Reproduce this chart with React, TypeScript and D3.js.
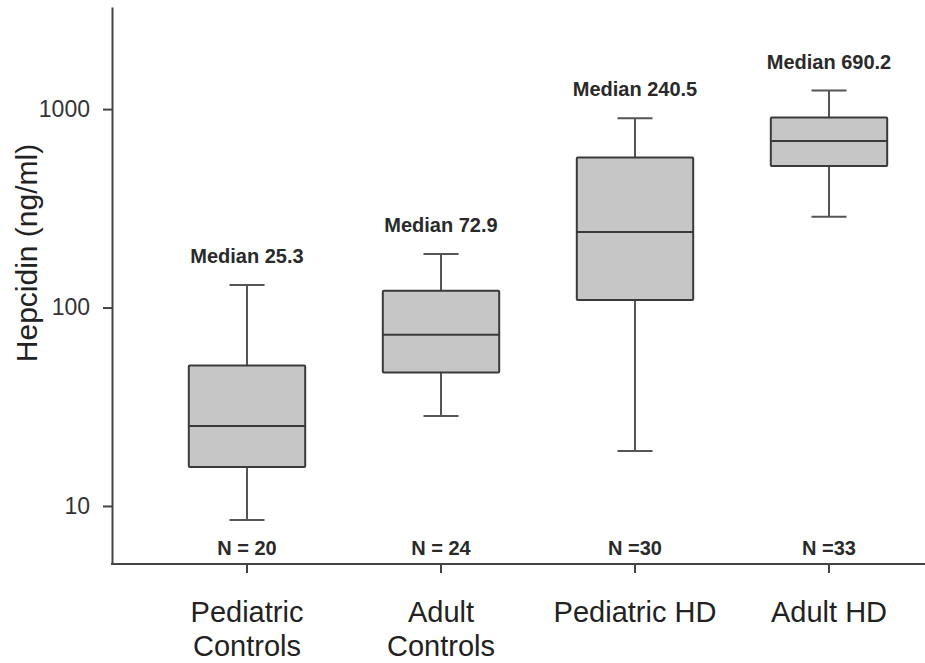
import React, { useEffect, useRef } from 'react'
import * as d3 from 'd3'

const groups = ['Pediatric Controls', 'Adult Controls', 'Pediatric HD', 'Adult HD']
const groupLines = [['Pediatric', 'Controls'], ['Adult', 'Controls'], ['Pediatric HD'], ['Adult HD']]
const whiskerLow = [8.5, 28.4, 18.9, 287]
const q1 = [15.7, 47, 109, 517]
const medians = [25.3, 72.9, 240.5, 690.2]
const q3 = [51, 121.6, 570, 906]
const whiskerHigh = [130, 186, 900, 1240]
const counts = ['N = 20', 'N = 24', 'N =30', 'N =33']
const yTicks = [10, 100, 1000]

const width = 925
const height = 663
const font = '"Liberation Sans", Arial, sans-serif'

const App = () => {
	const ref = useRef<SVGSVGElement>(null)

	useEffect(() => {
		const svg = d3.select(ref.current)
		svg.selectAll('*').remove()

		const axisLeftX = 112
		const axisBottomY = 564

		const y = d3.scaleLog().domain([5.1, 3270]).range([axisBottomY, 7])
		const x = d3.scaleBand().domain(groups).range([150, 926]).paddingInner(0.4).paddingOuter(0.2)
		const bw = x.bandwidth()
		const cap = 35

		const rows = groups.map((g, i) => ({
			g, i,
			lo: whiskerLow[i], q1: q1[i], med: medians[i], q3: q3[i], hi: whiskerHigh[i],
		}))

		// y axis
		const yAxis = svg.append('g')
			.attr('transform', `translate(${axisLeftX},0)`)
			.call(d3.axisLeft(y).tickValues(yTicks).tickFormat(d => String(d)).tickSize(9).tickSizeOuter(0).tickPadding(13))
		yAxis.select('.domain').attr('stroke', '#444').attr('stroke-width', 2)
		yAxis.selectAll('.tick line').attr('stroke', '#444').attr('stroke-width', 2)
		yAxis.selectAll('.tick text')
			.attr('font-family', font).attr('font-size', 23).attr('fill', '#333')

		// x axis line + ticks
		svg.append('line')
			.attr('x1', axisLeftX - 1).attr('x2', width)
			.attr('y1', axisBottomY).attr('y2', axisBottomY)
			.attr('stroke', '#444').attr('stroke-width', 2)

		const cx = (g: string) => (x(g) as number) + bw / 2

		svg.append('g').selectAll('line').data(groups).enter().append('line')
			.attr('x1', cx).attr('x2', cx)
			.attr('y1', axisBottomY).attr('y2', axisBottomY + 9)
			.attr('stroke', '#444').attr('stroke-width', 2)

		// category labels
		const labels = svg.append('g').selectAll('text').data(groups).enter().append('text')
			.attr('x', cx)
			.attr('text-anchor', 'middle')
			.attr('font-family', font).attr('font-size', 29).attr('fill', '#222')
		labels.each(function (g, i) {
			groupLines[i].forEach((line, k) => {
				d3.select(this).append('tspan')
					.attr('x', cx(g))
					.attr('y', 622 + k * 34)
					.text(line)
			})
		})

		// y title
		svg.append('text')
			.attr('transform', 'translate(37,253) rotate(-90)')
			.attr('text-anchor', 'middle')
			.attr('font-family', font).attr('font-size', 30).attr('fill', '#222')
			.text('Hepcidin (ng/ml)')

		// boxes
		const box = svg.append('g').selectAll('g').data(rows).enter().append('g')

		box.append('line')
			.attr('x1', d => cx(d.g)).attr('x2', d => cx(d.g))
			.attr('y1', d => y(d.hi)).attr('y2', d => y(d.q3))
			.attr('stroke', '#555').attr('stroke-width', 2)
		box.append('line')
			.attr('x1', d => cx(d.g)).attr('x2', d => cx(d.g))
			.attr('y1', d => y(d.q1)).attr('y2', d => y(d.lo))
			.attr('stroke', '#555').attr('stroke-width', 2)
		box.append('line')
			.attr('x1', d => cx(d.g) - cap / 2).attr('x2', d => cx(d.g) + cap / 2)
			.attr('y1', d => y(d.hi)).attr('y2', d => y(d.hi))
			.attr('stroke', '#555').attr('stroke-width', 2)
		box.append('line')
			.attr('x1', d => cx(d.g) - cap / 2).attr('x2', d => cx(d.g) + cap / 2)
			.attr('y1', d => y(d.lo)).attr('y2', d => y(d.lo))
			.attr('stroke', '#555').attr('stroke-width', 2)

		box.append('rect')
			.attr('x', d => x(d.g) as number)
			.attr('width', bw)
			.attr('y', d => y(d.q3))
			.attr('height', d => y(d.q1) - y(d.q3))
			.attr('fill', '#c6c6c6')
			.attr('stroke', '#3a3a3a').attr('stroke-width', 2)
			.attr('rx', 1)

		box.append('line')
			.attr('x1', d => x(d.g) as number).attr('x2', d => (x(d.g) as number) + bw)
			.attr('y1', d => y(d.med)).attr('y2', d => y(d.med))
			.attr('stroke', '#3a3a3a').attr('stroke-width', 2)

		// median labels
		box.append('text')
			.attr('x', d => cx(d.g))
			.attr('y', d => y(d.hi) - 22)
			.attr('text-anchor', 'middle')
			.attr('font-family', font).attr('font-size', 20).attr('font-weight', 'bold').attr('fill', '#2a2a2a')
			.text(d => 'Median ' + d.med)

		// counts
		box.append('text')
			.attr('x', d => cx(d.g))
			.attr('y', 555)
			.attr('text-anchor', 'middle')
			.attr('font-family', font).attr('font-size', 20).attr('font-weight', 'bold').attr('fill', '#2a2a2a')
			.text(d => counts[d.i])
	}, [])

	return (
		<svg
			ref={ref}
			width={width}
			height={height}
			style={{ position: 'absolute', left: 0, top: 0, background: '#fff' }}
		></svg>
	)
}

export default App
